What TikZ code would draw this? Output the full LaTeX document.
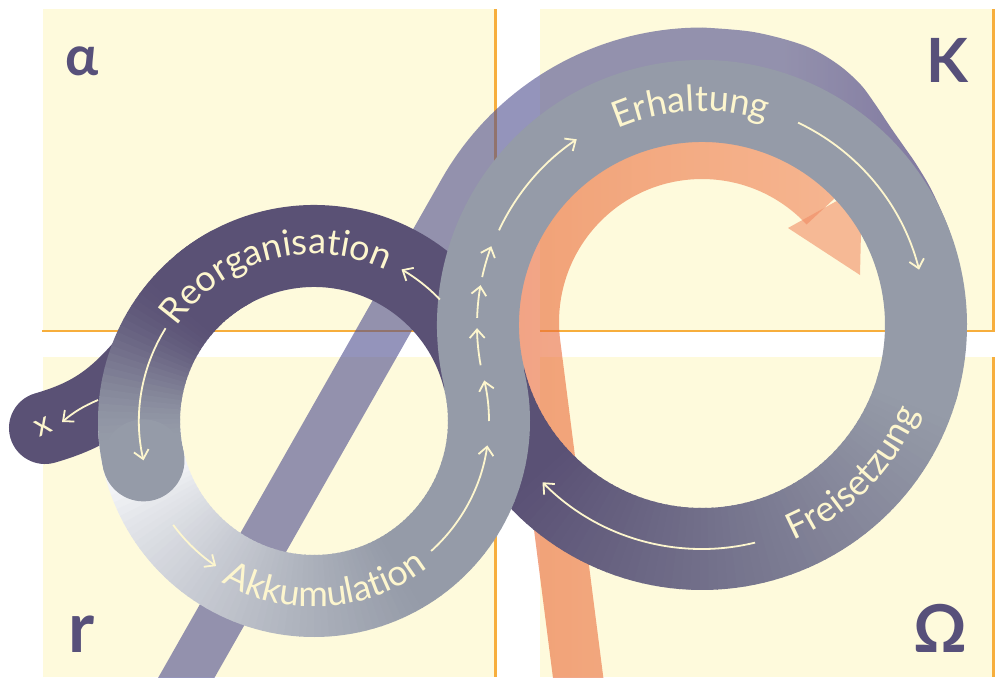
\documentclass[tikz,border=0pt]{standalone}
\usepackage{fontspec}
\setmainfont{Lato}
\usetikzlibrary{arrows.meta,decorations.text}
\definecolor{cream}{HTML}{FEFADC}
\definecolor{edge}{HTML}{F7AE3C}
\definecolor{dark}{HTML}{5A5175}
\definecolor{ring}{HTML}{959BA8}
\definecolor{whitish}{HTML}{F3F4F7}
\definecolor{txt}{HTML}{FDF6CE}
\definecolor{letter}{HTML}{57507A}
\definecolor{purpL}{HTML}{4D4C8E}
\definecolor{purpR}{HTML}{291D75}
\definecolor{orL}{HTML}{E86531}
\definecolor{orR}{HTML}{F1885E}
\definecolor{orH}{HTML}{F18E66}
\pgfdeclarehorizontalshading{purpshade}{100bp}{color(0bp)=(purpL); color(64bp)=(purpL); color(75bp)=(purpR); color(100bp)=(purpR)}
\begin{document}
\begin{tikzpicture}[x=1pt,y=-1pt,
  arr/.style={txt, line width=1.8pt, -{Straight Barb[length=8.5pt,width=15pt]}},
  panel/.style={fill=cream, draw=none},
  panelline/.style={edge, line width=2.5pt},
  band/.style={line width=82pt},
  label/.style={decorate, decoration={text along path, text align=center, text color=txt}},
  corner/.style={letter, inner sep=0pt, anchor=base}]
\useasboundingbox (0,0) rectangle (995,677);
% panels
\fill[panel] (43,9) rectangle (495,330);
\fill[panel] (540,9) rectangle (993,330);
\fill[panel] (43,357) rectangle (495,677);
\fill[panel] (540,357) rectangle (993,677);
\draw[panelline] (42,331) -- (495.5,331) -- (495.5,9);
\draw[panelline] (540,331) -- (993.5,331) -- (993.5,9);
\draw[panelline] (495.5,357) -- (495.5,677);
\draw[panelline] (993.5,357) -- (993.5,677);
% large-scale purple band
\shade[shading=purpshade, fill opacity=0.6] (152.4,687.9) -- (441.6,179.1)
  -- plot[domain=209.6:270, samples=40, variable=\t] ({702+299.5*cos(\t)}, {327+299.5*sin(\t)})
  -- plot[smooth, tension=0.55] coordinates {(702,27.5) (754.0,32.1) (804.4,45.6) (836.4,63.3) (859.9,83.8) (875.6,104.8) (889.6,125.9) (903.4,145.7) (916.8,165.1) (933.2,193.5) (951.0,236.4) (958.0,281.9)}
  -- plot[smooth, tension=0.55] coordinates {(909.8,290.4) (905.0,253.1) (890.8,218) (877.7,194.6) (856.1,161.7) (833.2,124.9) (787.7,91.6) (702,76.5)}
  -- plot[domain=270:209.6, samples=40, variable=\t] ({702+250.5*cos(\t)}, {327+250.5*sin(\t)})
  -- (195,712) -- cycle;
% orange band
\shade[left color=orL, right color=orR, fill opacity=0.6] (556.2,703.1) -- (510.5,346.2)
  arc[start angle=172.8, end angle=317, radius=193] -- (806.6,224.5)
  arc[start angle=317, end angle=172.8, radius=143] -- (605.8,696.9) -- cycle;
\fill[orH, fill opacity=0.6] (788,228) -- (862,187) -- (860,275) -- cycle;
% x branch
\draw[dark, line width=72pt, line cap=round] (150,355) .. controls (115,398) and (90,415) .. (45,428);
% Freisetzung (gradient gray -> dark)
\foreach \i in {0,...,73}{
  \pgfmathsetmacro\angA{375+2.0419*\i}
  \pgfmathsetmacro\angB{\angA+2.0419+0.4}
  \pgfmathsetmacro\mixp{100*min(1,max(0,(\angA+1-380)/118))}
  \colorlet{segc}{dark!\mixp!ring}
  \draw[segc, band] (702,325) ++(\angA:224) arc[start angle=\angA, end angle=\angB, radius=224];
}
% Reorganisation (dark)
\draw[dark, band] (314,421) ++(346.1:175) arc[start angle=346.1, end angle=230, radius=175];
% Akkumulation (white -> gray)
\foreach \i in {0,...,95}{
  \pgfmathsetmacro\angA{178-1.999*\i}
  \pgfmathsetmacro\angB{\angA-1.999-0.4}
  \pgfmathsetmacro\gA{min(1,max(0,(160-(\angA-1))/100))}
  \pgfmathsetmacro\mixp{100*sqrt(\gA*sqrt(\gA))}
  \colorlet{segc}{ring!\mixp!whitish}
  \draw[segc, band] (314,421) ++(\angA:175) arc[start angle=\angA, end angle=\angB, radius=175];
}
% right ring gray
\draw[ring, band] (702,325) ++(166.1:224) arc[start angle=166.1, end angle=377, radius=224];
% end of Reorganisation (dark -> gray) with round end
\foreach \i in {0,...,37}{
  \pgfmathsetmacro\angA{242-1.9737*\i}
  \pgfmathsetmacro\angB{\angA-1.9737-0.4}
  \pgfmathsetmacro\ff{min(1,max(0,(222-(\angA-1))/50))}
  \pgfmathsetmacro\mixp{100*(3*\ff*\ff-2*\ff*\ff*\ff)}
  \colorlet{segc}{ring!\mixp!dark}
  \draw[segc, band] (314,421) ++(\angA:175) arc[start angle=\angA, end angle=\angB, radius=175];
}
\fill[ring] (314,421) ++(167:175) circle[radius=41];
% arrows left loop
\draw[arr] (314,421) ++(316:175) arc[start angle=316, end angle=300, radius=175];
\draw[arr] (314,421) ++(212:175) arc[start angle=212, end angle=167, radius=175];
\draw[arr] (314,421) ++(143.6:175) arc[start angle=143.6, end angle=124, radius=175];
\draw[arr] (314,421) ++(48:175) arc[start angle=48, end angle=8, radius=175];
\draw[arr] (314,421) ++(0:175) arc[start angle=0, end angle=-13.4, radius=175];
% arrows right loop
\draw[arr] (702,325) ++(169.7:225) arc[start angle=169.7, end angle=179.2, radius=225];
\draw[arr] (702,325) ++(181.8:225) arc[start angle=181.8, end angle=190.2, radius=225];
\draw[arr] (702,325) ++(192.3:225) arc[start angle=192.3, end angle=200.5, radius=225];
\draw[arr] (702,325) ++(205:224) arc[start angle=205, end angle=236, radius=224];
\draw[arr] (702,325) ++(295.4:224) arc[start angle=295.4, end angle=345.7, radius=224];
\draw[arr] (702,325) ++(76.3:224) arc[start angle=76.3, end angle=135.4, radius=224];
% labels along the loops
\path[label, decoration={text={|\fontsize{36}{36}\selectfont|Reorganisation}}] (314,421) ++(200:167) arc[start angle=200, end angle=310, radius=167];
\path[label, decoration={text={|\fontsize{36}{36}\selectfont|Akkumulation}}] (314,421) ++(141:186) arc[start angle=141, end angle=31, radius=186];
\path[label, decoration={text={|\fontsize{36}{36}\selectfont|Erhaltung}}] (702,325) ++(222:214) arc[start angle=222, end angle=312, radius=214];
\path[label, decoration={text={|\fontsize{36}{36}\selectfont|Freisetzung}}] (702,325) ++(99.5:234) arc[start angle=99.5, end angle=-10.5, radius=234];
% x exit
\node[txt, rotate=25, inner sep=0pt, font=\fontsize{32}{32}\selectfont] (xlab) at (43,427) {x};
\coordinate (xtip) at (62,422);
\draw[arr] (98,400) to[bend right=8] (xtip);
% corner letters
\node[corner, font=\fontsize{55}{55}\selectfont\bfseries] (alpha) at (82,75) {α};
\node[corner, font=\fontsize{61}{61}\selectfont\bfseries] (kappa) at (947.5,82) {K};
\node[corner, font=\fontsize{70}{70}\selectfont\bfseries] (rr) at (82,652) {r};
\node[corner, font=\fontsize{66}{66}\selectfont\bfseries] (omega) at (940,652) {Ω};
\end{tikzpicture}
\end{document}
